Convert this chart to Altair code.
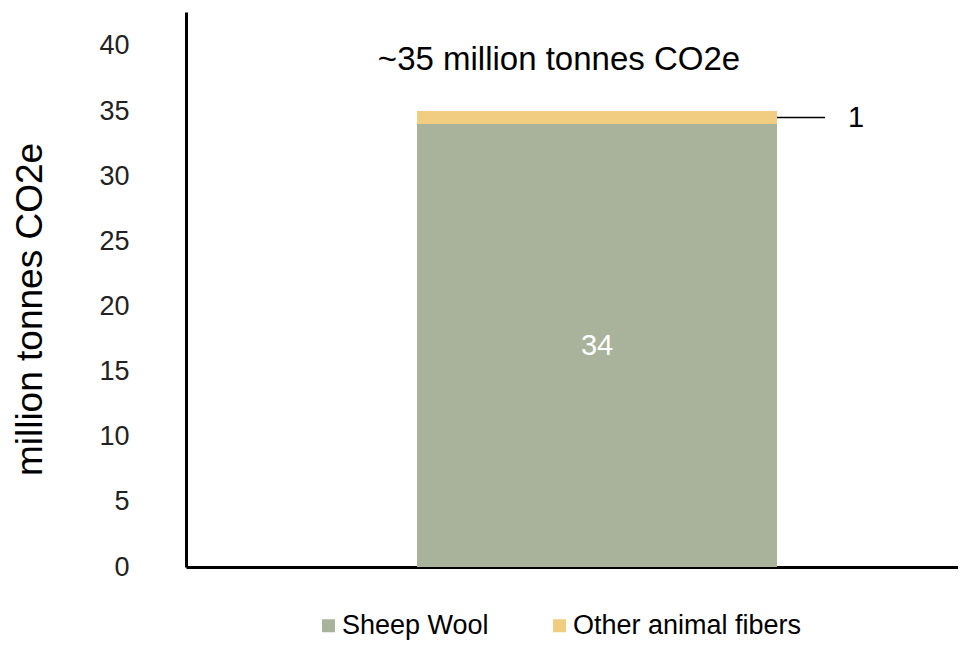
import altair as alt
import pandas as pd

# data
category = ["Animal fibers", "Animal fibers"]
series = ["Sheep Wool", "Other animal fibers"]
values = [34, 1]
stack_order = [0, 1]
colors = ["#A9B29A", "#F0CD80"]
y_ticks = [0, 5, 10, 15, 20, 25, 30, 35, 40]
total_label = "~35 million tonnes CO2e"

df = pd.DataFrame({"cat": category, "series": series, "value": values, "ord": stack_order})
df_inside = pd.DataFrame({"cat": [category[0]], "mid": [values[0] / 2], "label": [str(values[0])]})
df_small = pd.DataFrame({"cat": [category[1]], "mid": [values[0] + values[1] / 2], "label": [str(values[1])]})
df_total = pd.DataFrame({"cat": [category[0]], "y": [38.9], "label": [total_label]})

FONT = "Liberation Sans"

x_scale = alt.Scale(paddingInner=0, paddingOuter=0.5722, align=0.5607)
y_scale = alt.Scale(domain=[0, 42.6], nice=False)

bars = alt.Chart(df).mark_bar().encode(
    x=alt.X("cat:N", scale=x_scale,
            axis=alt.Axis(labels=False, ticks=False, title=None, grid=False,
                          domainColor="black", domainWidth=3)),
    y=alt.Y("sum(value):Q", scale=y_scale, stack="zero",
            axis=alt.Axis(values=y_ticks, ticks=False, grid=False, domainColor="black", domainWidth=3,
                          labelFontSize=27, labelColor="#222222", labelPadding=57, labelFont=FONT,
                          title="million tonnes CO2e", titleFontSize=37, titleFont=FONT,
                          titleFontWeight="normal", titleColor="black", titlePadding=49,
                          titleY=297)),
    color=alt.Color("series:N", scale=alt.Scale(domain=series, range=colors),
                    legend=alt.Legend(orient="none", legendX=129, legendY=600, direction="horizontal",
                                      title=None, symbolType="square", symbolSize=169,
                                      symbolStrokeWidth=0, labelFontSize=27, labelFont=FONT,
                                      labelColor="black", columnPadding=57, labelOffset=0,
                                      padding=0, labelLimit=0)),
    order=alt.Order("ord:Q"),
)

inside = alt.Chart(df_inside).mark_text(color="white", fontSize=29, font=FONT).encode(
    x=alt.X("cat:N", scale=x_scale), y=alt.Y("mid:Q", scale=y_scale), text="label:N")

leader = alt.Chart(df_small).mark_rule(color="black", strokeWidth=1.5).encode(
    x=alt.X("cat:N", scale=x_scale, bandPosition=1), x2=alt.value(639),
    y=alt.Y("mid:Q", scale=y_scale))

small_lbl = alt.Chart(df_small).mark_text(color="black", fontSize=29, font=FONT, align="left", dx=71).encode(
    x=alt.X("cat:N", scale=x_scale, bandPosition=1), y=alt.Y("mid:Q", scale=y_scale), text="label:N")

total = alt.Chart(df_total).mark_text(color="black", fontSize=33, font=FONT, dx=-38).encode(
    x=alt.X("cat:N", scale=x_scale), y=alt.Y("y:Q", scale=y_scale), text="label:N")

chart = alt.layer(bars, inside, leader, small_lbl, total).properties(
    width=772, height=555,
    background="white",
    autosize=alt.AutoSizeParams(type="none"),
    padding={"left": 178, "top": 4, "right": 0, "bottom": 74},
).configure_view(stroke=None, strokeWidth=0).configure_axis(grid=False)

chart.save("out.html", embed_options={"renderer": "svg", "actions": False})
